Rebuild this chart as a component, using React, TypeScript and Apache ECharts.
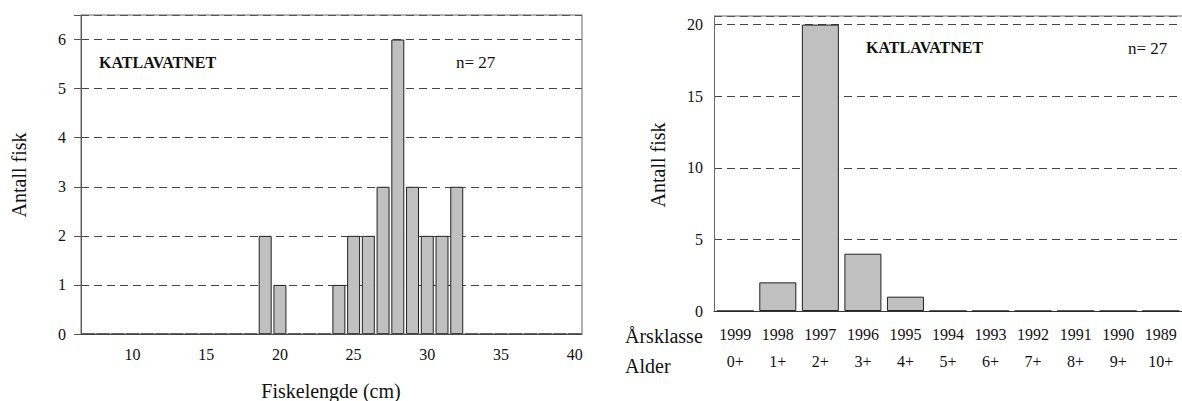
import React, { useEffect, useRef } from "react";
import * as echarts from "echarts";

// ---- data ----
const lengthCategories = ["7","8","9","10","11","12","13","14","15","16","17","18","19","20","21","22","23","24","25","26","27","28","29","30","31","32","33","34","35","36","37","38","39","40"];
const lengthCounts = [0,0,0,0,0,0,0,0,0,0,0,0,2,1,0,0,0,1,2,2,3,6,3,2,2,3,0,0,0,0,0,0,0,0];
const lengthTickLabels = ["10","15","20","25","30","35","40"];

const yearClasses = ["1999","1998","1997","1996","1995","1994","1993","1992","1991","1990","1989"];
const ages = ["0+","1+","2+","3+","4+","5+","6+","7+","8+","9+","10+"];
const ageCounts = [0,2,20,4,1,0,0,0,0,0,0];

const lakeName = "KATLAVATNET";
const nLabel = "n= 27";

const FONT = "Liberation Serif";

export default function App() {
  const ref = useRef<HTMLDivElement>(null);
  useEffect(() => {
    if (!ref.current) return;
    const chart = echarts.init(ref.current, null, { renderer: "svg" });
    // layout
    const L = { left: 81, top: 15, width: 501, height: 319 };
    const R = { left: 714, top: 16, width: 473, height: 295 };
    const barStyle = { color: "#c0c0c0", borderColor: "#222", borderWidth: 1 };
    const dashed = { color: "#444", width: 1.2, type: [8, 5] as any };
    const txt = (o: any) => ({ fontFamily: FONT, fill: "#111", ...o });
    chart.setOption({
      animation: false,
      textStyle: { fontFamily: FONT },
      grid: [
        { ...L, show: false },
        { ...R, show: false },
      ],
      xAxis: [
        {
          gridIndex: 0,
          type: "category",
          data: lengthCategories,
          boundaryGap: true,
          axisLine: { lineStyle: { color: "#333", width: 1 } },
          axisTick: { alignWithLabel: true, interval: 0, length: 7, lineStyle: { color: "#333" } },
          axisLabel: {
            interval: 0,
            margin: 12,
            fontSize: 16,
            fontFamily: FONT,
            color: "#111",
            formatter: (v: string) => (lengthTickLabels.includes(v) ? v : ""),
          },
        },
        {
          gridIndex: 1,
          type: "category",
          data: yearClasses,
          boundaryGap: true,
          axisLine: { lineStyle: { color: "#333", width: 1 } },
          axisTick: { alignWithLabel: true, interval: 0, length: 7, lineStyle: { color: "#333" } },
          axisLabel: {
            interval: 0,
            margin: 10,
            color: "#111",
            fontFamily: FONT,
            formatter: (v: string, i: number) => `{y|${v}}\n{a|${ages[i]}}`,
            rich: {
              y: { fontSize: 16, fontFamily: FONT, lineHeight: 27, color: "#111" },
              a: { fontSize: 16, fontFamily: FONT, lineHeight: 27, color: "#111" },
            },
          },
        },
      ],
      yAxis: [
        {
          gridIndex: 0,
          type: "value",
          min: 0,
          max: 6.5,
          interval: 1,
          axisLine: { show: true, lineStyle: { color: "#555" } },
          axisTick: { show: true, length: 7, lineStyle: { color: "#555" } },
          axisLabel: {
            margin: 15,
            fontSize: 16,
            fontFamily: FONT,
            color: "#111",
            formatter: (v: number) => (Number.isInteger(v) ? String(v) : ""),
          },
          splitLine: { show: true, lineStyle: dashed },
        },
        {
          gridIndex: 1,
          type: "value",
          min: 0,
          max: 20.6,
          interval: 5,
          axisLine: { show: true, lineStyle: { color: "#666" } },
          axisTick: { show: false },
          axisLabel: {
            margin: 11,
            fontSize: 16,
            fontFamily: FONT,
            color: "#111",
            formatter: (v: number) => (v % 5 === 0 ? String(v) : ""),
          },
          splitLine: { show: true, lineStyle: dashed },
        },
      ],
      series: [
        {
          type: "bar",
          xAxisIndex: 0,
          yAxisIndex: 0,
          data: lengthCounts,
          barCategoryGap: "12%",
          itemStyle: barStyle,
        },
        {
          type: "bar",
          xAxisIndex: 1,
          yAxisIndex: 1,
          data: ageCounts,
          barCategoryGap: "13%",
          itemStyle: barStyle,
        },
      ],
      graphic: [
        {
          type: "rect",
          z: 50,
          shape: { x: L.left, y: L.top, width: L.width, height: L.height },
          style: { fill: "none", stroke: "#666", lineWidth: 1 },
        },
        {
          type: "line",
          z: 50,
          shape: { x1: R.left, y1: R.top, x2: 1182, y2: R.top },
          style: { stroke: "#666", lineWidth: 1 },
        },
        {
          type: "text", x: 19, y: 175, rotation: Math.PI / 2, z: 60,
          style: txt({ text: "Antall fisk", fontSize: 20, align: "center", verticalAlign: "middle" }),
        },
        {
          type: "text", x: 331, y: 391, z: 60,
          style: txt({ text: "Fiskelengde (cm)", fontSize: 20, align: "center", verticalAlign: "middle" }),
        },
        {
          type: "text", x: 99, y: 62, z: 60,
          style: txt({ text: lakeName, fontSize: 16, fontWeight: "bold", align: "left", verticalAlign: "middle" }),
        },
        {
          type: "text", x: 456, y: 62, z: 60,
          style: txt({ text: nLabel, fontSize: 17, align: "left", verticalAlign: "middle" }),
        },
        {
          type: "text", x: 658, y: 165, rotation: Math.PI / 2, z: 60,
          style: txt({ text: "Antall fisk", fontSize: 20, align: "center", verticalAlign: "middle" }),
        },
        {
          type: "text", x: 866, y: 47, z: 60,
          style: txt({ text: lakeName, fontSize: 16, fontWeight: "bold", align: "left", verticalAlign: "middle" }),
        },
        {
          type: "text", x: 1128, y: 48, z: 60,
          style: txt({ text: nLabel, fontSize: 17, align: "left", verticalAlign: "middle" }),
        },
        {
          type: "text", x: 625, y: 336, z: 60,
          style: txt({ text: "Årsklasse", fontSize: 20, align: "left", verticalAlign: "middle" }),
        },
        {
          type: "text", x: 625, y: 366, z: 60,
          style: txt({ text: "Alder", fontSize: 20, align: "left", verticalAlign: "middle" }),
        },
      ],
    });
    return () => chart.dispose();
  }, []);
  return (
    <div
      ref={ref}
      style={{ position: "fixed", left: 0, top: 0, width: 1182, height: 401, background: "#fff" }}
    />
  );
}
